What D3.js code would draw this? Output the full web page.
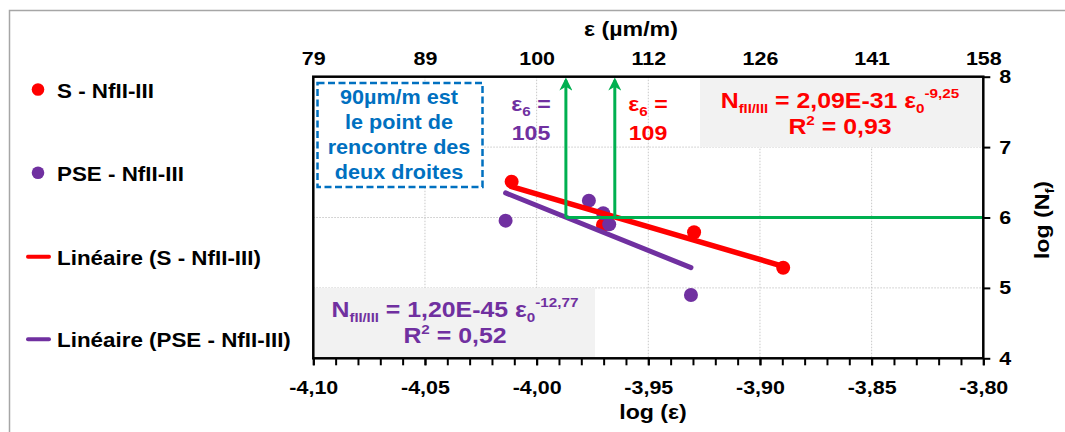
<!DOCTYPE html>
<html><head><meta charset="utf-8">
<script src="https://cdn.jsdelivr.net/npm/d3@7"></script>
<style>
html,body{margin:0;padding:0;background:#fff;}
svg{display:block;}
text{font-family:"Liberation Sans",Arial,sans-serif;font-weight:bold;}
</style></head><body>
<svg id="c" width="1065" height="432"></svg>
<script>
// ---- data ----
const xMajorTicks = [-4.10, -4.05, -4.00, -3.95, -3.90, -3.85, -3.80];
const xTickLabels = ["-4,10", "-4,05", "-4,00", "-3,95", "-3,90", "-3,85", "-3,80"];
const topTickLabels = ["79", "89", "100", "112", "126", "141", "158"];
const yTicks = [4, 5, 6, 7, 8];
const yTickLabels = ["4", "5", "6", "7", "8"];

const sLogEps = [-4.0112, -3.9703, -3.9295, -3.8896];
const sLogN   = [6.509, 5.893, 5.790, 5.287];
const pseLogEps = [-4.0139, -3.9766, -3.9702, -3.9675, -3.9309];
const pseLogN   = [5.955, 6.239, 6.060, 5.903, 4.899];

// trend line end points (Excel linear trendlines)
const sTrendX = [-4.0112, -3.8896];
const sTrendY = [6.437, 5.307];
const pseTrendX = [-4.0139, -3.9309];
const pseTrendY = [6.349, 5.288];

// green construction lines (log eps at eps6 values, log N = 6)
const eps6LogX = [-3.9869, -3.9650];
const targetLogN = 6;
const arrowTopLogN = 7.95;

const legendLabels = ["S - NfII-III", "PSE - NfII-III", "Linéaire (S - NfII-III)", "Linéaire (PSE - NfII-III)"];

const RED = "#ff0000", PURPLE = "#7030a0", GREEN = "#00b050", BLUE = "#0070c0";
const SX = 1.13;

const svg = d3.select("#c");
const x = d3.scaleLinear([-4.10, -3.80], [313.3, 983.3]);
const y = d3.scaleLinear([4, 8], [358.3, 76.7]);

// outer chart border
svg.append("rect").attr("x", 9.5).attr("y", 10.5).attr("width", 1200).attr("height", 600)
  .attr("fill", "none").attr("stroke", "#a6a6a6").attr("stroke-width", 1.5);

function txt(g, px, py, str, size, color, anchor, extra, sx) {
  const t = g.append("text")
    .attr("transform", `translate(${px},${py}) ${extra || ""} scale(${sx || SX},1)`)
    .attr("font-size", size).attr("fill", color || "#000")
    .attr("text-anchor", anchor || "middle");
  if (str !== null) t.text(str);
  return t;
}

// gridlines
const grid = svg.append("g");
grid.selectAll("line.v").data(xMajorTicks.slice(1, -1)).join("line")
  .attr("x1", d => x(d)).attr("x2", d => x(d)).attr("y1", y(8)).attr("y2", y(4))
  .attr("stroke", "#c8c8c8").attr("stroke-width", 1).attr("stroke-dasharray", "1.5,1.5");
grid.selectAll("line.h").data(yTicks.slice(1, -1)).join("line")
  .attr("x1", x(-4.10)).attr("x2", x(-3.80)).attr("y1", d => y(d)).attr("y2", d => y(d))
  .attr("stroke", "#c8c8c8").attr("stroke-width", 1).attr("stroke-dasharray", "1.5,1.5");

// equation boxes
svg.append("rect").attr("x", 700).attr("y", y(8)).attr("width", x(-3.80) - 700).attr("height", y(7) - y(8))
  .attr("fill", "#f2f2f2");
svg.append("rect").attr("x", x(-4.10)).attr("y", y(5)).attr("width", 595 - x(-4.10)).attr("height", y(4) - y(5))
  .attr("fill", "#f2f2f2");

// points
svg.append("g").selectAll("circle").data(sLogEps.map((d, i) => [d, sLogN[i]])).join("circle")
  .attr("cx", d => x(d[0])).attr("cy", d => y(d[1])).attr("r", 7).attr("fill", RED);
svg.append("g").selectAll("circle").data(pseLogEps.map((d, i) => [d, pseLogN[i]])).join("circle")
  .attr("cx", d => x(d[0])).attr("cy", d => y(d[1])).attr("r", 7).attr("fill", PURPLE);

// trendlines
const line = d3.line().x(d => x(d[0])).y(d => y(d[1]));
svg.append("path").attr("d", line(sTrendX.map((d, i) => [d, sTrendY[i]])))
  .attr("stroke", RED).attr("stroke-width", 5.5).attr("fill", "none").attr("stroke-linecap", "round");
svg.append("path").attr("d", line(pseTrendX.map((d, i) => [d, pseTrendY[i]])))
  .attr("stroke", PURPLE).attr("stroke-width", 5).attr("fill", "none").attr("stroke-linecap", "round");

// green construction lines
svg.append("defs").append("marker").attr("id", "arr").attr("viewBox", "0 0 10 10")
  .attr("refX", 8).attr("refY", 5).attr("markerWidth", 14).attr("markerHeight", 13)
  .attr("orient", "auto").attr("markerUnits", "userSpaceOnUse")
  .append("path").attr("d", "M0,0 L10,5 L0,10 L3,5 Z").attr("fill", GREEN);
const gg = svg.append("g");
gg.append("line").attr("x1", x(eps6LogX[0])).attr("x2", x(-3.80)).attr("y1", y(targetLogN)).attr("y2", y(targetLogN))
  .attr("stroke", GREEN).attr("stroke-width", 3);
eps6LogX.forEach(v => {
  gg.append("line").attr("x1", x(v)).attr("x2", x(v)).attr("y1", y(targetLogN)).attr("y2", y(arrowTopLogN))
    .attr("stroke", GREEN).attr("stroke-width", 3).attr("marker-end", "url(#arr)");
});

// plot frame
svg.append("rect").attr("x", x(-4.10)).attr("y", y(8)).attr("width", x(-3.80) - x(-4.10)).attr("height", y(4) - y(8))
  .attr("fill", "none").attr("stroke", "#000").attr("stroke-width", 2.5);

// bottom axis
const minor = d3.range(0, 31).map(i => -4.10 + i * 0.01);
svg.append("g").attr("transform", `translate(0,${y(4)})`)
  .call(d3.axisBottom(x).tickValues(minor).tickSize(7).tickFormat(""))
  .call(g => { g.select(".domain").remove(); g.selectAll("line").attr("stroke-width", 2); });
const xb = svg.append("g").attr("transform", `translate(0,${y(4)})`)
  .call(d3.axisBottom(x).tickValues(xMajorTicks).tickSize(7).tickPadding(12)
    .tickFormat((d, i) => xTickLabels[i]));
xb.select(".domain").remove();
xb.selectAll("line").attr("stroke-width", 2);
xb.selectAll("text").attr("font-size", 19).attr("font-family", null).attr("fill", "#000")
  .attr("transform", `scale(${SX},1)`).attr("dy", "0.88em");

// top labels
const xt = svg.append("g").attr("transform", `translate(0,${y(8)})`)
  .call(d3.axisTop(x).tickValues(xMajorTicks).tickSize(0).tickPadding(12)
    .tickFormat((d, i) => topTickLabels[i]));
xt.select(".domain").remove();
xt.selectAll("text").attr("font-size", 19).attr("font-family", null).attr("fill", "#000")
  .attr("transform", `scale(${SX},1)`);

// right axis
const yr = svg.append("g").attr("transform", `translate(${x(-3.80)},0)`)
  .call(d3.axisRight(y).tickValues(yTicks).tickSize(7).tickFormat((d, i) => yTickLabels[i]));
yr.select(".domain").remove();
yr.selectAll("line").attr("stroke-width", 2);
yr.selectAll("text").attr("font-size", 19).attr("font-family", null).attr("fill", "#000")
  .attr("x", 0).attr("transform", `translate(16,0) scale(${SX},1)`);

// axis titles
txt(svg, 653, 419, "log (ε)", 20.5);
txt(svg, 631, 36, "ε (µm/m)", 20.5);
const yt = txt(svg, 1049, 220, null, 20.5, "#000", "middle", "rotate(-90)");
yt.append("tspan").text("log (N");
yt.append("tspan").attr("font-size", 13).attr("dy", 5).text("f");
yt.append("tspan").attr("dy", -5).text(")");

// equations
function eq(cx, cy, color, coef, expo, r2) {
  const g = svg.append("g");
  const t = txt(g, cx, cy, null, 22, color);
  t.append("tspan").text("N");
  t.append("tspan").attr("font-size", 13).attr("dy", 5).text("fII/III");
  t.append("tspan").attr("dy", -5).text(" = " + coef + " ε");
  t.append("tspan").attr("font-size", 13.5).attr("dy", 5).text("0");
  t.append("tspan").attr("font-size", 13.5).attr("dy", -15).text(expo);
  const t2 = txt(g, cx, cy + 26, null, 22, color);
  t2.append("tspan").text("R");
  t2.append("tspan").attr("font-size", 13.5).attr("dy", -9).text("2");
  t2.append("tspan").attr("dy", 9).text(" = " + r2);
}
eq(840, 108, RED, "2,09E-31", "-9,25", "0,93");
eq(455, 317, PURPLE, "1,20E-45", "-12,77", "0,52");

// eps6 labels
function epsLab(cx, color, val) {
  const t = txt(svg, cx, 111, null, 20.5, color);
  t.append("tspan").text("ε");
  t.append("tspan").attr("font-size", 13.5).attr("dy", 5).text("6");
  t.append("tspan").attr("dy", -5).text(" =");
  txt(svg, cx, 140, val, 20.5, color);
}
epsLab(531, PURPLE, "105");
epsLab(648, RED, "109");

// blue dashed note
svg.append("rect").attr("x", 317.5).attr("y", 83).attr("width", 165).attr("height", 104)
  .attr("fill", "#fff").attr("stroke", BLUE).attr("stroke-width", 2.5).attr("stroke-dasharray", "7,3.5");
["90µm/m est", "le point de", "rencontre des", "deux droites"].forEach((s, i) => {
  txt(svg, 399, 103.5 + i * 25, s, 20, BLUE, "middle", "", 1.08);
});

// legend
const lg = svg.append("g");
lg.append("circle").attr("cx", 38).attr("cy", 89.5).attr("r", 6.3).attr("fill", RED);
lg.append("circle").attr("cx", 38).attr("cy", 172.7).attr("r", 6.3).attr("fill", PURPLE);
lg.append("line").attr("x1", 28).attr("x2", 49).attr("y1", 256.7).attr("y2", 256.7).attr("stroke", RED).attr("stroke-width", 4).attr("stroke-linecap", "round");
lg.append("line").attr("x1", 28).attr("x2", 49).attr("y1", 339.3).attr("y2", 339.3).attr("stroke", PURPLE).attr("stroke-width", 4).attr("stroke-linecap", "round");
[97.5, 181, 264.5, 347.3].forEach((by, i) => txt(lg, 57, by, legendLabels[i], 20, "#000", "start", "", 1.12));
</script>
</body></html>
